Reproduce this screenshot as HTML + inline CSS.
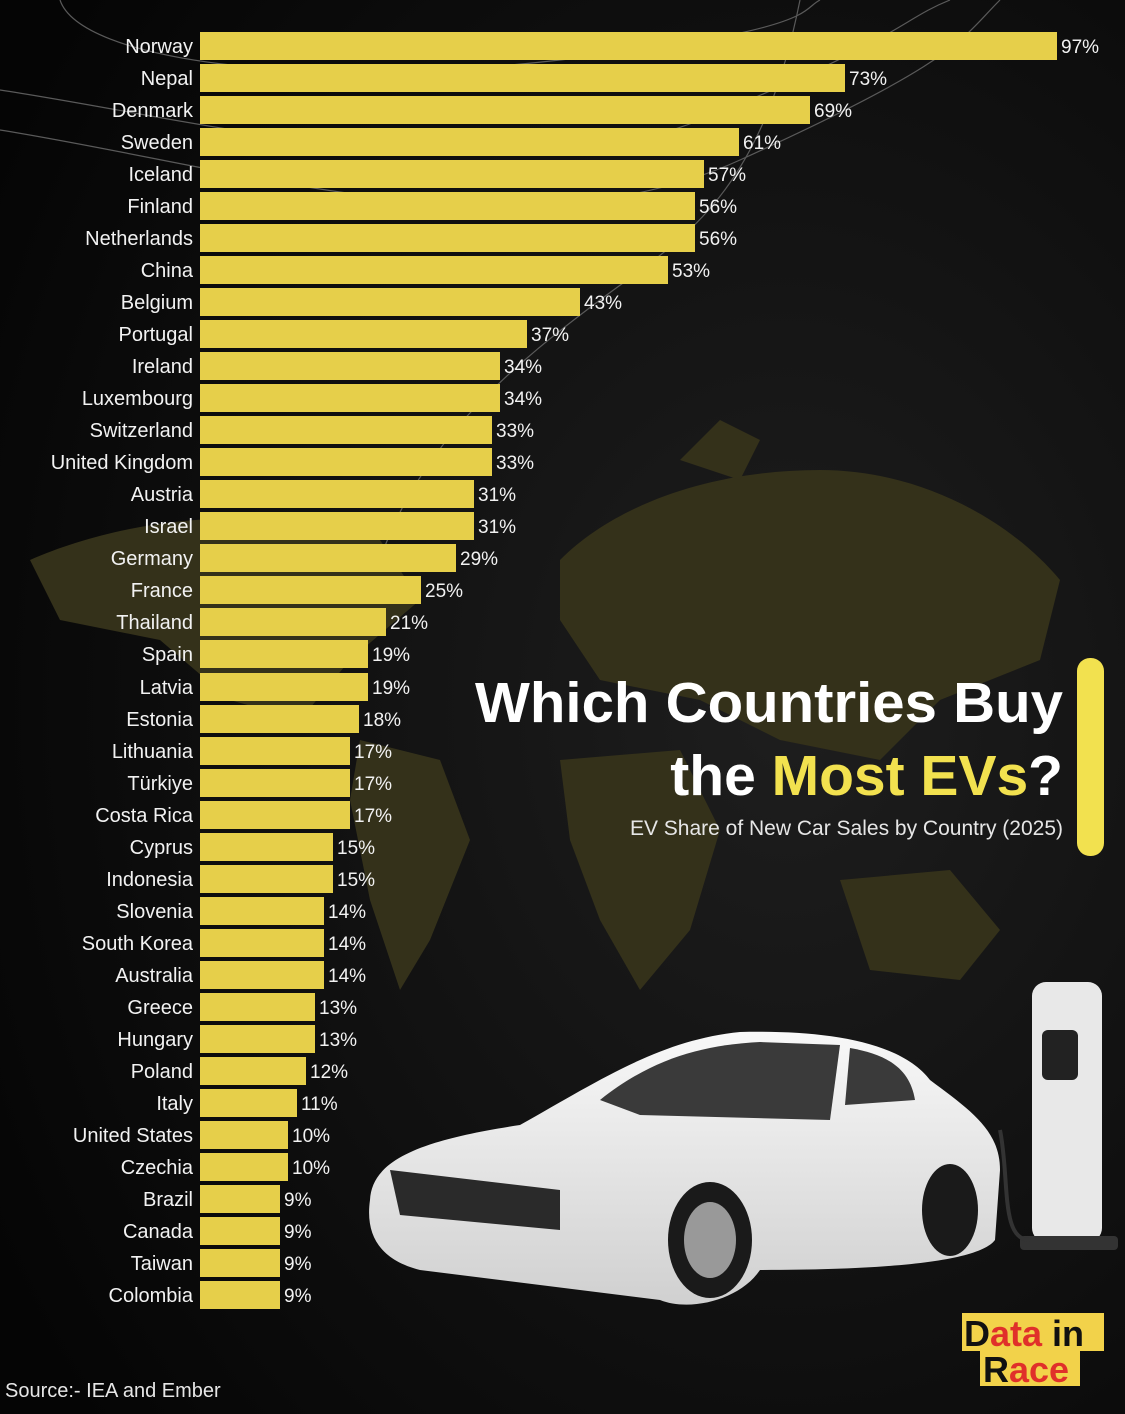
<!DOCTYPE html>
<html><head><meta charset="utf-8"><style>
body{margin:0;background:#000;}
svg{display:block;}
.l{font-family:"Liberation Sans","DejaVu Sans",sans-serif;font-size:20px;fill:#f2f2f2;text-anchor:end;}
.v{font-family:"Liberation Sans","DejaVu Sans",sans-serif;font-size:19px;fill:#f2f2f2;}
</style></head><body>
<svg width="1125" height="1414" viewBox="0 0 1125 1414" xmlns="http://www.w3.org/2000/svg">
<defs>
<radialGradient id="bg" cx="0.7" cy="0.5" r="0.8"><stop offset="0" stop-color="#1e1e1e"/><stop offset="1" stop-color="#050505"/></radialGradient>
<linearGradient id="car" x1="0" y1="0" x2="0" y2="1"><stop offset="0" stop-color="#f8f8f8"/><stop offset="1" stop-color="#d0d0d0"/></linearGradient>
</defs>
<rect width="1125" height="1414" fill="url(#bg)"/>
<g fill="none" stroke="#5a5a5a" stroke-width="1.2">
<path d="M0 90 C200 120 500 200 700 120 S900 20 950 0"/>
<path d="M0 130 C250 170 520 260 740 160 S960 40 1000 0"/>
<path d="M60 0 C80 60 300 90 560 60 S800 10 820 0"/>
<path d="M380 560 C420 440 520 360 600 300 S760 200 800 0"/>
</g>
<g fill="#34311a">
<path d="M30 560 C120 520 260 500 380 540 L420 600 L350 660 L300 720 L230 700 L160 640 L60 620 Z"/>
<path d="M360 740 L440 760 L470 840 L430 940 L400 990 L370 900 L350 800 Z"/>
<path d="M560 560 C620 500 720 470 820 470 C920 470 1010 520 1060 580 L1040 660 L940 700 L880 760 L780 740 L700 700 L600 680 L560 620 Z"/>
<path d="M560 760 L680 750 L720 830 L690 930 L640 990 L600 920 L570 840 Z"/>
<path d="M840 880 L950 870 L1000 930 L960 980 L870 970 Z"/>
<path d="M680 460 L720 420 L760 440 L740 480 Z"/>
</g>
<rect x="1077" y="658" width="27" height="198" rx="13" fill="#f2e14f"/>
<g font-family="Liberation Sans,DejaVu Sans,sans-serif" font-weight="bold" text-anchor="end">
<text x="1063" y="722" font-size="57" fill="#ffffff" textLength="588" lengthAdjust="spacingAndGlyphs">Which Countries Buy</text>
<text x="1063" y="795" font-size="57"><tspan fill="#ffffff">the </tspan><tspan fill="#f2e14f">Most EVs</tspan><tspan fill="#ffffff">?</tspan></text>
</g>
<text x="1063" y="835" font-family="Liberation Sans,DejaVu Sans,sans-serif" font-size="21" fill="#e6e6e6" text-anchor="end">EV Share of New Car Sales by Country (2025)</text>
<rect x="1032" y="982" width="70" height="260" rx="14" fill="#e8e8e8"/>
<rect x="1042" y="1030" width="36" height="50" rx="6" fill="#222"/>
<rect x="1020" y="1236" width="98" height="14" rx="4" fill="#333"/>
<path d="M1000 1130 C1010 1180 1000 1240 1030 1240" stroke="#333" stroke-width="4" fill="none"/>
<path d="M370 1200 C372 1160 420 1140 520 1125 C600 1080 660 1040 740 1032 C820 1030 900 1040 930 1080 C970 1110 1000 1130 1000 1170 L995 1240 C980 1260 900 1270 760 1270 C740 1300 690 1312 660 1300 L420 1270 C380 1260 365 1235 370 1200 Z" fill="url(#car)"/>
<path d="M600 1100 C650 1060 700 1045 760 1042 L840 1045 L830 1120 L640 1115 Z" fill="#3a3a3a"/>
<path d="M850 1048 C890 1055 910 1070 915 1100 L845 1105 Z" fill="#3a3a3a"/>
<ellipse cx="710" cy="1240" rx="42" ry="58" fill="#1a1a1a"/>
<ellipse cx="710" cy="1240" rx="26" ry="38" fill="#999"/>
<ellipse cx="950" cy="1210" rx="28" ry="46" fill="#1a1a1a"/>
<path d="M390 1170 L560 1190 L560 1230 L400 1215 Z" fill="#2a2a2a"/>
<rect x="962" y="1313" width="142" height="38" fill="#f2d24a"/>
<rect x="980" y="1350" width="100" height="36" fill="#f2d24a"/>
<g font-family="Liberation Sans,DejaVu Sans,sans-serif" font-weight="bold" font-size="36">
<text x="964" y="1346"><tspan fill="#111">D</tspan><tspan fill="#e0302a">ata</tspan><tspan fill="#111"> in</tspan></text>
<text x="983" y="1382"><tspan fill="#111">R</tspan><tspan fill="#e0302a">ace</tspan></text>
</g>
<text x="5" y="1397" font-family="Liberation Sans,DejaVu Sans,sans-serif" font-size="20" fill="#e6e6e6">Source:- IEA and Ember</text>
<g fill="#e6cf4a">
<rect x="200" y="32" width="857" height="28"/><rect x="200" y="64" width="645" height="28"/><rect x="200" y="96" width="610" height="28"/><rect x="200" y="128" width="539" height="28"/><rect x="200" y="160" width="504" height="28"/><rect x="200" y="192" width="495" height="28"/><rect x="200" y="224" width="495" height="28"/><rect x="200" y="256" width="468" height="28"/><rect x="200" y="288" width="380" height="28"/><rect x="200" y="320" width="327" height="28"/><rect x="200" y="352" width="300" height="28"/><rect x="200" y="384" width="300" height="28"/><rect x="200" y="416" width="292" height="28"/><rect x="200" y="448" width="292" height="28"/><rect x="200" y="480" width="274" height="28"/><rect x="200" y="512" width="274" height="28"/><rect x="200" y="544" width="256" height="28"/><rect x="200" y="576" width="221" height="28"/><rect x="200" y="608" width="186" height="28"/><rect x="200" y="640" width="168" height="28"/><rect x="200" y="673" width="168" height="28"/><rect x="200" y="705" width="159" height="28"/><rect x="200" y="737" width="150" height="28"/><rect x="200" y="769" width="150" height="28"/><rect x="200" y="801" width="150" height="28"/><rect x="200" y="833" width="133" height="28"/><rect x="200" y="865" width="133" height="28"/><rect x="200" y="897" width="124" height="28"/><rect x="200" y="929" width="124" height="28"/><rect x="200" y="961" width="124" height="28"/><rect x="200" y="993" width="115" height="28"/><rect x="200" y="1025" width="115" height="28"/><rect x="200" y="1057" width="106" height="28"/><rect x="200" y="1089" width="97" height="28"/><rect x="200" y="1121" width="88" height="28"/><rect x="200" y="1153" width="88" height="28"/><rect x="200" y="1185" width="80" height="28"/><rect x="200" y="1217" width="80" height="28"/><rect x="200" y="1249" width="80" height="28"/><rect x="200" y="1281" width="80" height="28"/>
</g>
<g class="l">
<text x="193" y="53">Norway</text><text x="193" y="85">Nepal</text><text x="193" y="117">Denmark</text><text x="193" y="149">Sweden</text><text x="193" y="181">Iceland</text><text x="193" y="213">Finland</text><text x="193" y="245">Netherlands</text><text x="193" y="277">China</text><text x="193" y="309">Belgium</text><text x="193" y="341">Portugal</text><text x="193" y="373">Ireland</text><text x="193" y="405">Luxembourg</text><text x="193" y="437">Switzerland</text><text x="193" y="469">United Kingdom</text><text x="193" y="501">Austria</text><text x="193" y="533">Israel</text><text x="193" y="565">Germany</text><text x="193" y="597">France</text><text x="193" y="629">Thailand</text><text x="193" y="661">Spain</text><text x="193" y="694">Latvia</text><text x="193" y="726">Estonia</text><text x="193" y="758">Lithuania</text><text x="193" y="790">Türkiye</text><text x="193" y="822">Costa Rica</text><text x="193" y="854">Cyprus</text><text x="193" y="886">Indonesia</text><text x="193" y="918">Slovenia</text><text x="193" y="950">South Korea</text><text x="193" y="982">Australia</text><text x="193" y="1014">Greece</text><text x="193" y="1046">Hungary</text><text x="193" y="1078">Poland</text><text x="193" y="1110">Italy</text><text x="193" y="1142">United States</text><text x="193" y="1174">Czechia</text><text x="193" y="1206">Brazil</text><text x="193" y="1238">Canada</text><text x="193" y="1270">Taiwan</text><text x="193" y="1302">Colombia</text>
</g>
<g class="v">
<text x="1061" y="53">97%</text><text x="849" y="85">73%</text><text x="814" y="117">69%</text><text x="743" y="149">61%</text><text x="708" y="181">57%</text><text x="699" y="213">56%</text><text x="699" y="245">56%</text><text x="672" y="277">53%</text><text x="584" y="309">43%</text><text x="531" y="341">37%</text><text x="504" y="373">34%</text><text x="504" y="405">34%</text><text x="496" y="437">33%</text><text x="496" y="469">33%</text><text x="478" y="501">31%</text><text x="478" y="533">31%</text><text x="460" y="565">29%</text><text x="425" y="597">25%</text><text x="390" y="629">21%</text><text x="372" y="661">19%</text><text x="372" y="694">19%</text><text x="363" y="726">18%</text><text x="354" y="758">17%</text><text x="354" y="790">17%</text><text x="354" y="822">17%</text><text x="337" y="854">15%</text><text x="337" y="886">15%</text><text x="328" y="918">14%</text><text x="328" y="950">14%</text><text x="328" y="982">14%</text><text x="319" y="1014">13%</text><text x="319" y="1046">13%</text><text x="310" y="1078">12%</text><text x="301" y="1110">11%</text><text x="292" y="1142">10%</text><text x="292" y="1174">10%</text><text x="284" y="1206">9%</text><text x="284" y="1238">9%</text><text x="284" y="1270">9%</text><text x="284" y="1302">9%</text>
</g>
</svg>
</body></html>
